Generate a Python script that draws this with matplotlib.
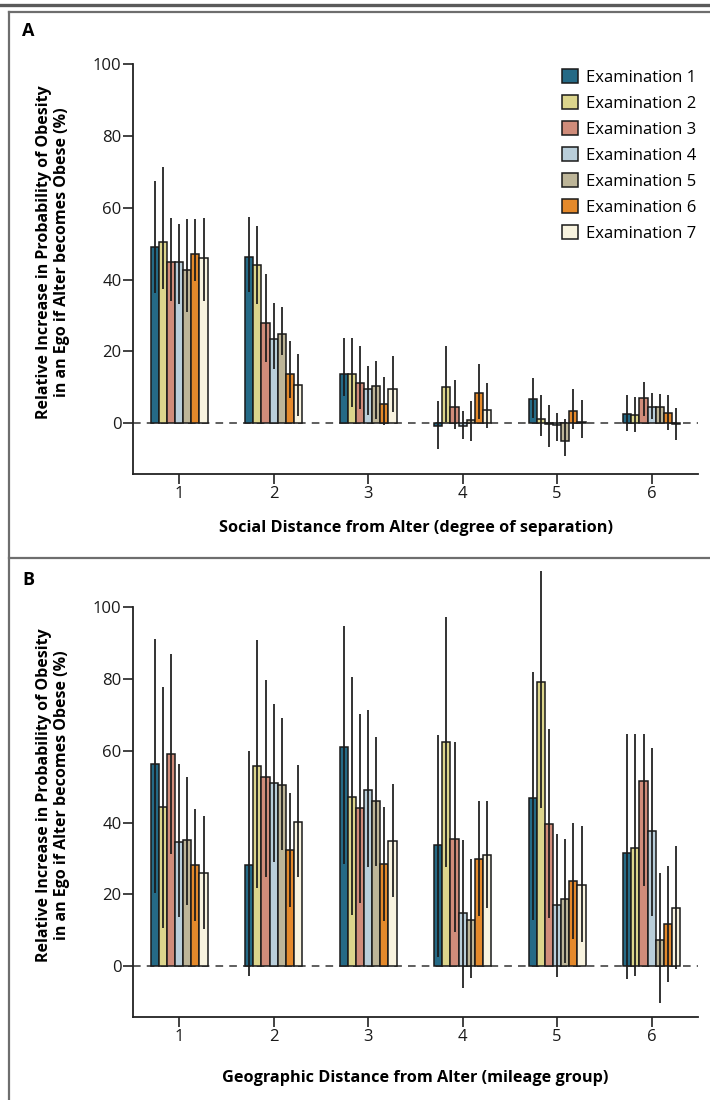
import numpy as np
import matplotlib.pyplot as plt
from matplotlib.lines import Line2D
from matplotlib.patches import Patch

plt.rcParams['font.family'] = ['Open Sans', 'DejaVu Sans']

# Groups on the x axis
groups = [1, 2, 3, 4, 5, 6]
exam_labels = ['Examination 1', 'Examination 2', 'Examination 3', 'Examination 4',
               'Examination 5', 'Examination 6', 'Examination 7']
exam_colors = ['#256a86', '#dcd58c', '#d08c7a', '#b9ceda', '#bdb598', '#e4892b', '#f8f3df']

# Panel A: social distance (rows = examination, cols = degree of separation)
social_val = [
    [49.1, 46.3, 13.6, -0.7, 6.9, 2.7],
    [50.6, 44.2, 13.7, 10.0, 1.3, 2.3],
    [44.8, 28.0, 11.1, 4.6, -0.2, 7.1],
    [44.8, 23.6, 9.6, -0.7, -0.6, 4.5],
    [42.8, 25.0, 10.5, 1.0, -4.8, 4.5],
    [47.1, 13.7, 5.5, 8.4, 3.3, 3.0],
    [45.9, 10.7, 9.6, 3.6, 0.4, -0.3],
]
social_lo = [
    [36.4, 36.5, 7.6, -7.2, 1.4, -2.1],
    [37.5, 33.1, 4.5, 0.5, -3.5, -2.3],
    [34.0, 17.1, 3.9, -1.7, -6.6, 2.0],
    [33.2, 15.0, 2.3, -4.4, -5.0, 1.3],
    [31.1, 19.0, 1.1, -4.9, -9.2, 0.1],
    [39.7, 7.1, -0.5, 1.2, -1.5, -1.8],
    [34.0, 2.0, 3.2, -1.4, -4.1, -4.7],
]
social_hi = [
    [67.4, 57.4, 23.8, 6.2, 12.5, 7.8],
    [71.2, 54.8, 23.8, 21.5, 7.9, 7.2],
    [57.1, 41.6, 21.5, 12.1, 5.2, 11.6],
    [55.4, 33.4, 15.9, 3.4, 3.0, 8.5],
    [57.0, 32.3, 17.3, 6.2, 1.1, 8.2],
    [56.9, 22.9, 12.9, 16.5, 9.5, 7.8],
    [57.1, 19.3, 18.6, 11.2, 6.4, 4.3],
]

# Panel B: geographic distance (rows = examination, cols = mileage group)
geo_val = [
    [56.3, 28.2, 61.1, 33.7, 46.9, 31.6],
    [44.3, 55.8, 47.0, 62.5, 79.2, 32.9],
    [59.1, 52.7, 44.1, 35.4, 39.6, 51.6],
    [34.6, 50.9, 49.2, 14.8, 17.0, 37.6],
    [35.2, 50.6, 46.0, 13.0, 18.6, 7.4],
    [28.1, 32.4, 28.4, 30.0, 23.8, 11.9],
    [25.9, 40.2, 34.9, 31.1, 22.7, 16.2],
]
geo_lo = [
    [20.5, -2.7, 28.6, 2.6, 12.8, -3.4],
    [10.6, 21.9, 14.4, 27.7, 44.0, -2.7],
    [31.2, 24.9, 17.7, 9.5, 13.4, 22.4],
    [13.6, 29.1, 27.7, -6.0, -2.9, 14.1],
    [17.1, 32.3, 28.0, -3.2, 1.0, -10.1],
    [12.5, 16.5, 12.6, 14.1, 7.7, -4.4],
    [10.4, 24.8, 19.3, 16.3, 6.9, -0.8],
]
geo_hi = [
    [91.2, 59.8, 94.6, 64.4, 81.8, 64.6],
    [77.7, 90.9, 80.4, 97.3, 109.9, 64.6],
    [86.9, 79.8, 70.3, 62.3, 66.1, 64.6],
    [56.3, 72.9, 71.3, 35.2, 36.9, 60.7],
    [52.8, 69.0, 63.9, 29.9, 35.4, 26.1],
    [43.9, 48.2, 44.4, 46.0, 39.8, 28.0],
    [41.7, 56.0, 50.8, 46.0, 39.0, 33.5],
]

W, H = 710, 1100
fig = plt.figure(figsize=(W / 100, H / 100), dpi=100)

ylabel = 'Relative Increase in Probability of Obesity\nin an Ego if Alter becomes Obese (%)'
bar_w = 0.086


def draw_panel(ax, vals, lo, hi, xlabel, xpad):
    x = np.array(groups, dtype=float)
    for i in range(len(exam_labels)):
        xi = x + (i - 3) * bar_w
        ax.bar(xi, vals[i], width=bar_w, color=exam_colors[i], edgecolor='#1a1a1a',
               linewidth=1.1, zorder=2)
        ax.vlines(xi, lo[i], hi[i], color='#1a1a1a', linewidth=1.25, zorder=3, clip_on=False)
    ax.axhline(0, color='#333333', linewidth=1.1, linestyle=(0, (5, 4)), zorder=1)
    ax.set_xlim(0.515, 6.49)
    ax.set_ylim(-14.1, 100)
    ax.set_yticks([0, 20, 40, 60, 80, 100])
    ax.set_xticks(groups)
    for s in ['top', 'right']:
        ax.spines[s].set_visible(False)
    for s in ['left', 'bottom']:
        ax.spines[s].set_linewidth(1.3)
        ax.spines[s].set_color('#222222')
    ax.tick_params(axis='both', labelsize=12, length=7, width=1.2, color='#222222',
                   labelcolor='#1a1a1a', pad=1.5)
    ax.set_xlabel(xlabel, fontsize=11.7, fontweight='bold', labelpad=xpad)
    ax.set_ylabel(ylabel, fontsize=11.5, fontweight='bold', linespacing=1.15)
    ax.yaxis.set_label_coords(-0.112, 0.54)
    ax.patch.set_alpha(0)


ax_a = fig.add_axes([133.3 / W, 1 - 474 / H, (698 - 133.3) / W, 410 / H])
draw_panel(ax_a, social_val, social_lo, social_hi,
           'Social Distance from Alter (degree of separation)', 13)

ax_b = fig.add_axes([133.3 / W, 1 - 1017 / H, (698 - 133.3) / W, 410 / H])
draw_panel(ax_b, geo_val, geo_lo, geo_hi,
           'Geographic Distance from Alter (mileage group)', 18)

# Legend in panel A
handles = [Patch(facecolor=c, edgecolor='#1a1a1a', linewidth=1.1) for c in exam_colors]
ax_a.legend(handles, exam_labels, loc='upper right', bbox_to_anchor=(1.009, 1.005),
            frameon=False, fontsize=12, handlelength=0.95, handleheight=0.95,
            handletextpad=0.5, labelspacing=0.55, borderaxespad=0.0)

# Panel letters
fig.text(22 / W, 1 - 31 / H, 'A', fontsize=13, fontweight='bold', va='center', ha='left')
fig.text(22 / W, 1 - 580 / H, 'B', fontsize=13, fontweight='bold', va='center', ha='left')

# Frame lines
frame = '#6e6e6e'
fig.add_artist(Line2D([0, 1], [1 - 4.5 / H, 1 - 4.5 / H], color='#5a5a5a', linewidth=2.4))
fig.add_artist(Line2D([8.5 / W, 1], [1 - 12 / H, 1 - 12 / H], color=frame, linewidth=1.6))
fig.add_artist(Line2D([8.5 / W, 8.5 / W], [1 - 12 / H, 0], color=frame, linewidth=1.6))
fig.add_artist(Line2D([8.5 / W, 1], [1 - 557.5 / H, 1 - 557.5 / H], color=frame, linewidth=1.6))

fig.savefig('out.png', dpi=100)
